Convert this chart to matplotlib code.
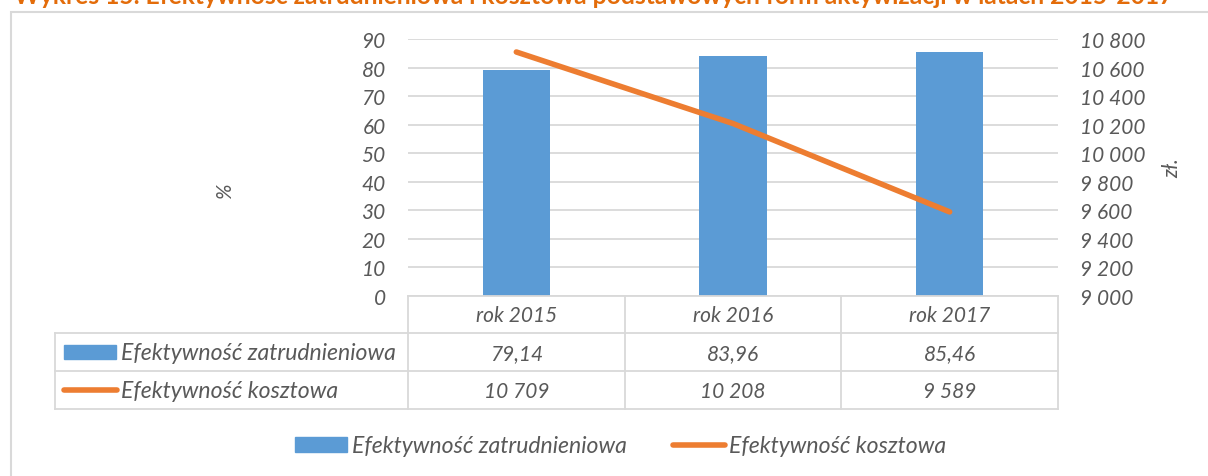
import matplotlib
matplotlib.use('Agg')
import matplotlib.pyplot as plt
from matplotlib.lines import Line2D
from matplotlib.patches import Patch, Rectangle
from matplotlib.transforms import blended_transform_factory
import numpy as np

# ---- data ----
categories = ['rok 2015', 'rok 2016', 'rok 2017']
employment_eff = [79.14, 83.96, 85.46]
cost_eff = [10709, 10208, 9589]
left_ticks = [0, 10, 20, 30, 40, 50, 60, 70, 80, 90]
right_ticks = [9000, 9200, 9400, 9600, 9800, 10000, 10200, 10400, 10600, 10800]
series_names = ['Efektywność zatrudnieniowa', 'Efektywność kosztowa']
left_label = '%'
right_label = 'zł.'
title = ('Wykres 15. Efektywność zatrudnieniowa i kosztowa podstawowych '
         'form aktywizacji w latach 2015-2017')

W, H = 1208, 477
FONT = ['Lato', 'DejaVu Sans']
plt.rcParams['font.family'] = FONT
GRAY = '#595959'
BLUE = '#5B9BD5'
ORANGE = '#ED7D31'
GRID = '#D9D9D9'
FS = 15        # numbers / category labels
FS_TXT = 16.6  # series names


def fx(px):
    return px / W


def fy(py):
    return 1 - py / H


def thousands(v):
    return f'{int(round(v)):,}'.replace(',', ' ')


def dec(v):
    return f'{v:.2f}'.replace('.', ',')


fig = plt.figure(figsize=(W / 100, H / 100), dpi=100)

# outer chart frame
fig.add_artist(Rectangle((fx(11), fy(600)), fx(1300), fy(13) - fy(600),
                         transform=fig.transFigure, fill=False,
                         edgecolor=GRID, lw=1.5))

# title, clipped at the very top as in the reference
fig.text(fx(14), fy(4), title, color='#E36C0A', fontsize=17.7,
         fontweight='bold', ha='left', va='baseline', family=FONT)

ax = fig.add_axes([fx(408), fy(297), fx(1058) - fx(408), fy(40) - fy(297)])
x = np.arange(len(categories))
ax.bar(x, employment_eff, width=0.31, color=BLUE, zorder=2)
ax.set_xlim(-0.5, len(categories) - 0.5)
ax.set_ylim(0, 90)
ax.set_yticks(left_ticks)
ax.set_yticklabels([str(t) for t in left_ticks], fontsize=FS, style='italic',
                   color=GRAY)
ax.grid(axis='y', color=GRID, lw=1.3)
ax.set_axisbelow(True)
for s in ax.spines.values():
    s.set_visible(False)
ax.spines['bottom'].set_visible(True)
ax.spines['bottom'].set_color(GRID)
ax.spines['bottom'].set_linewidth(1.3)
ax.set_xticks([])
ax.tick_params(axis='y', length=0, pad=16)
ax.set_facecolor('none')

ax2 = ax.twinx()
ax2.plot(x, cost_eff, color=ORANGE, lw=4, solid_capstyle='round', zorder=3)
ax2.set_ylim(right_ticks[0], right_ticks[-1])
ax2.set_yticks(right_ticks)
ax2.set_yticklabels([thousands(t) for t in right_ticks], fontsize=FS,
                    style='italic', color=GRAY)
for s in ax2.spines.values():
    s.set_visible(False)
ax2.tick_params(axis='y', length=0, pad=16)

# axis titles
fig.text(fx(225), fy(191), left_label, rotation=90, fontsize=FS,
         style='italic', color=GRAY, ha='center', va='center')
fig.text(fx(1172), fy(168), right_label, rotation=90, fontsize=FS,
         style='italic', color=GRAY, ha='center', va='center')

# data table below the axis
tr = blended_transform_factory(ax.transData, fig.transFigure)
lk = dict(color=GRID, lw=1.3, clip_on=False)
for py in (334, 372, 410):
    fig.add_artist(Line2D([fx(55), fx(1058)], [fy(py), fy(py)],
                          transform=fig.transFigure, **lk))
fig.add_artist(Line2D([fx(55), fx(55)], [fy(334), fy(410)],
                      transform=fig.transFigure, **lk))
for b in np.arange(len(categories) + 1) - 0.5:
    fig.add_artist(Line2D([b, b], [fy(297), fy(410)], transform=tr, **lk))

tk = dict(fontsize=FS, style='italic', color=GRAY, va='center')
for i, cat in enumerate(categories):
    fig.text(i, fy(316), cat, transform=tr, ha='center', **tk)
    fig.text(i, fy(354), dec(employment_eff[i]), transform=tr, ha='center', **tk)
    fig.text(i, fy(392), thousands(cost_eff[i]), transform=tr, ha='center', **tk)

# row headers with legend keys
fig.add_artist(Rectangle((fx(64), fy(360)), fx(116) - fx(64), fy(346) - fy(360),
                         transform=fig.transFigure, color=BLUE))
fig.add_artist(Line2D([fx(64), fx(117)], [fy(391), fy(391)],
                      transform=fig.transFigure, color=ORANGE, lw=4,
                      solid_capstyle='round'))
tk2 = dict(fontsize=FS_TXT, style='italic', color=GRAY, va='center')
fig.text(fx(121), fy(354), series_names[0], ha='left', **tk2)
fig.text(fx(121), fy(392), series_names[1], ha='left', **tk2)

# bottom legend
handles = [Patch(color=BLUE), Line2D([], [], color=ORANGE, lw=4,
                                     solid_capstyle='round')]
leg = fig.legend(handles, series_names, loc='center',
                 bbox_to_anchor=(fx(621), fy(447)), ncol=2, frameon=False,
                 handlelength=2.25, handleheight=0.6, handletextpad=0.2,
                 columnspacing=2.0,
                 prop={'family': FONT, 'size': FS_TXT, 'style': 'italic'})
for t in leg.get_texts():
    t.set_color(GRAY)

fig.savefig('out.png', dpi=100)
